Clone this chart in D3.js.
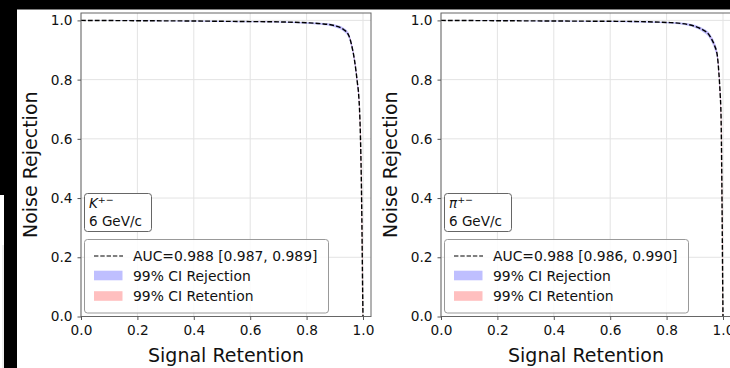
<!DOCTYPE html>
<html>
<head>
<meta charset="utf-8">
<script src="https://cdn.jsdelivr.net/npm/d3@7"></script>
<style>
  html, body { margin: 0; padding: 0; background: #fff; }
  svg { display: block; font-family: "DejaVu Sans", sans-serif; }
</style>
</head>
<body>
<div id="chart"></div>
<script>
  // signal retention grid shared by both panels
  const retention = [0.0, 0.1, 0.2, 0.3, 0.4, 0.5, 0.6, 0.7, 0.8, 0.85, 0.9, 0.93, 0.95, 0.96, 0.97, 0.98, 0.985, 0.99, 0.993, 0.996, 0.998, 1.0];

  // kaon panel
  const kaonRejection = [1.000, 0.9995, 0.999, 0.9985, 0.998, 0.997, 0.996, 0.995, 0.992, 0.989, 0.982, 0.970, 0.948, 0.915, 0.865, 0.790, 0.745, 0.640, 0.520, 0.330, 0.150, 0.000];
  const kaonRejLo = [1.000, 0.999, 0.998, 0.997, 0.996, 0.995, 0.994, 0.993, 0.989, 0.985, 0.977, 0.963, 0.939, 0.904, 0.852, 0.776, 0.730, 0.625, 0.505, 0.315, 0.140, 0.000];
  const kaonRejHi = [1.000, 1.000, 0.9995, 0.999, 0.9985, 0.998, 0.997, 0.996, 0.994, 0.992, 0.986, 0.976, 0.956, 0.925, 0.877, 0.804, 0.760, 0.655, 0.535, 0.345, 0.160, 0.000];
  const kaonRetLo = [0.0, 0.099, 0.199, 0.299, 0.399, 0.499, 0.599, 0.699, 0.799, 0.849, 0.899, 0.929, 0.949, 0.959, 0.969, 0.979, 0.984, 0.989, 0.992, 0.995, 0.997, 0.999];
  const kaonRetHi = [0.001, 0.101, 0.201, 0.301, 0.401, 0.501, 0.601, 0.701, 0.801, 0.851, 0.901, 0.931, 0.951, 0.961, 0.971, 0.981, 0.986, 0.991, 0.994, 0.997, 0.999, 1.0];

  // pion panel
  const pionRejection = [1.000, 0.9995, 0.999, 0.9985, 0.998, 0.9975, 0.997, 0.996, 0.993, 0.990, 0.980, 0.967, 0.952, 0.936, 0.915, 0.880, 0.828, 0.750, 0.680, 0.450, 0.220, 0.000];
  const pionRejLo = [1.000, 0.999, 0.998, 0.997, 0.996, 0.9955, 0.995, 0.993, 0.990, 0.986, 0.975, 0.960, 0.943, 0.925, 0.902, 0.866, 0.812, 0.734, 0.664, 0.435, 0.210, 0.000];
  const pionRejHi = [1.000, 1.000, 0.9995, 0.999, 0.9985, 0.998, 0.998, 0.997, 0.995, 0.993, 0.985, 0.973, 0.960, 0.946, 0.927, 0.893, 0.843, 0.765, 0.695, 0.465, 0.230, 0.000];
  const pionRetLo = [0.0, 0.099, 0.199, 0.299, 0.399, 0.499, 0.599, 0.699, 0.799, 0.849, 0.899, 0.929, 0.949, 0.959, 0.969, 0.979, 0.984, 0.989, 0.992, 0.995, 0.997, 0.999];
  const pionRetHi = [0.001, 0.101, 0.201, 0.301, 0.401, 0.501, 0.601, 0.701, 0.801, 0.851, 0.901, 0.931, 0.951, 0.961, 0.971, 0.981, 0.986, 0.991, 0.994, 0.997, 0.999, 1.0];

  const tickValues = [0.0, 0.2, 0.4, 0.6, 0.8, 1.0];
  const legendLabels = ['99% CI Rejection', '99% CI Retention'];

  const panels = [
    { left: 81, particle: 'K', auc: 'AUC=0.988 [0.987, 0.989]', rej: kaonRejection, rejLo: kaonRejLo, rejHi: kaonRejHi, retLo: kaonRetLo, retHi: kaonRetHi },
    { left: 441, particle: 'π', auc: 'AUC=0.988 [0.986, 0.990]', rej: pionRejection, rejLo: pionRejLo, rejHi: pionRejHi, retLo: pionRetLo, retHi: pionRetHi }
  ];

  (function () {
    const width = 730, height = 368;
    const plotTop = 13, plotBottom = 316.5, plotW = 290;

    const svg = d3.select('#chart').append('svg')
      .attr('width', width)
      .attr('height', height);

    svg.append('rect').attr('width', width).attr('height', height).attr('fill', '#fff');

    const y = d3.scaleLinear().domain([0, 1.025]).range([plotBottom, plotTop]);

    panels.forEach(function (p) {
      const x = d3.scaleLinear().domain([0, 1.0284]).range([p.left, p.left + plotW]);
      const g = svg.append('g');

      // grid
      g.selectAll('line.gx').data(tickValues).enter().append('line')
        .attr('x1', d => x(d)).attr('x2', d => x(d))
        .attr('y1', plotTop).attr('y2', plotBottom)
        .attr('stroke', '#e3e3e3').attr('stroke-width', 1);
      g.selectAll('line.gy').data(tickValues).enter().append('line')
        .attr('x1', p.left).attr('x2', p.left + plotW)
        .attr('y1', d => y(d)).attr('y2', d => y(d))
        .attr('stroke', '#e3e3e3').attr('stroke-width', 1);

      const pts = retention.map(function (r, i) {
        return { r: r, v: p.rej[i], lo: p.rejLo[i], hi: p.rejHi[i], rlo: p.retLo[i], rhi: p.retHi[i] };
      });

      // retention CI (horizontal spread)
      g.append('path').datum(pts)
        .attr('fill', 'rgba(255,0,0,0.25)')
        .attr('d', d3.area().curve(d3.curveMonotoneY)
          .y(d => y(d.v)).x0(d => x(d.rlo)).x1(d => x(d.rhi)));

      // rejection CI (vertical spread)
      g.append('path').datum(pts)
        .attr('fill', 'rgba(0,0,255,0.25)')
        .attr('d', d3.area().curve(d3.curveMonotoneX)
          .x(d => x(d.r)).y0(d => y(d.lo)).y1(d => y(d.hi)));

      g.append('path').datum(pts)
        .attr('fill', 'none')
        .attr('stroke', '#000')
        .attr('stroke-width', 1.4)
        .attr('stroke-dasharray', '4.8,2.1')
        .attr('d', d3.line().curve(d3.curveMonotoneX).x(d => x(d.r)).y(d => y(d.v)));

      // frame
      g.append('rect')
        .attr('x', p.left).attr('y', plotTop)
        .attr('width', plotW).attr('height', plotBottom - plotTop)
        .attr('fill', 'none').attr('stroke', '#666').attr('stroke-width', 1);

      // axes
      const xAxis = g.append('g').attr('transform', 'translate(0,' + plotBottom + ')')
        .call(d3.axisBottom(x).tickValues(tickValues).tickFormat(d3.format('.1f')).tickSize(3.5).tickPadding(5.4));
      const yAxis = g.append('g').attr('transform', 'translate(' + p.left + ',0)')
        .call(d3.axisLeft(y).tickValues(tickValues).tickFormat(d3.format('.1f')).tickSize(3.5).tickPadding(5));
      [xAxis, yAxis].forEach(function (a) {
        a.select('.domain').remove();
        a.selectAll('.tick line').attr('stroke', '#555');
        a.selectAll('text').attr('font-size', 13.7).attr('fill', '#111').attr('font-family', 'DejaVu Sans');
      });

      // axis titles
      g.append('text')
        .attr('x', p.left + plotW / 2).attr('y', 362)
        .attr('text-anchor', 'middle').attr('font-size', 19).attr('fill', '#111')
        .text('Signal Retention');
      g.append('text')
        .attr('transform', 'translate(' + (p.left - 44) + ',' + ((plotTop + plotBottom) / 2) + ') rotate(-90)')
        .attr('text-anchor', 'middle').attr('font-size', 19).attr('fill', '#111')
        .text('Noise Rejection');

      // particle box
      const bx = p.left + 3.5;
      g.append('rect')
        .attr('x', bx).attr('y', 193.5).attr('width', 67).attr('height', 38).attr('rx', 3)
        .attr('fill', '#fff').attr('stroke', '#666').attr('stroke-width', 1);
      const t1 = g.append('text').attr('x', bx + 4.5).attr('y', 207.5).attr('font-size', 13.5).attr('fill', '#111');
      t1.append('tspan').attr('font-style', 'italic').text(p.particle);
      t1.append('tspan').attr('font-size', 9.5).attr('dy', -5).text('+−');
      g.append('text').attr('x', bx + 4.5).attr('y', 226).attr('font-size', 13.5).attr('fill', '#111').text('6 GeV/c');

      // legend
      const lx = p.left + 3.5;
      g.append('rect')
        .attr('x', lx).attr('y', 239.5).attr('width', 244).attr('height', 73.5).attr('rx', 3)
        .attr('fill', 'rgba(255,255,255,0.85)').attr('stroke', '#999').attr('stroke-width', 1);
      g.append('line')
        .attr('x1', lx + 9.5).attr('x2', lx + 38.5).attr('y1', 256).attr('y2', 256)
        .attr('stroke', '#000').attr('stroke-width', 1.2).attr('stroke-dasharray', '4.4,1.9');
      g.append('text').attr('x', lx + 48.5).attr('y', 261).attr('font-size', 13.9).attr('fill', '#111').text(p.auc);
      const patchColors = ['rgba(0,0,255,0.25)', 'rgba(255,0,0,0.25)'];
      legendLabels.forEach(function (lab, i) {
        const cy = 275.5 + i * 20.5;
        g.append('rect').attr('x', lx + 9.5).attr('y', cy - 4.8).attr('width', 28.5).attr('height', 9.6)
          .attr('fill', patchColors[i]);
        g.append('text').attr('x', lx + 48.5).attr('y', cy + 5).attr('font-size', 13.9).attr('fill', '#111').text(lab);
      });
    });

    // black canvas edges from the original crop
    svg.append('rect').attr('x', 0).attr('y', 0).attr('width', width).attr('height', 9.5).attr('fill', '#000');
    svg.append('rect').attr('x', 0).attr('y', 0).attr('width', 17).attr('height', 195).attr('fill', '#000');
    svg.append('rect').attr('x', 4).attr('y', 195).attr('width', 13).attr('height', 173).attr('fill', '#000');
    svg.append('line').attr('x1', 3).attr('x2', 3).attr('y1', 245).attr('y2', 368).attr('stroke', '#ddd');
  })();
</script>
</body>
</html>
